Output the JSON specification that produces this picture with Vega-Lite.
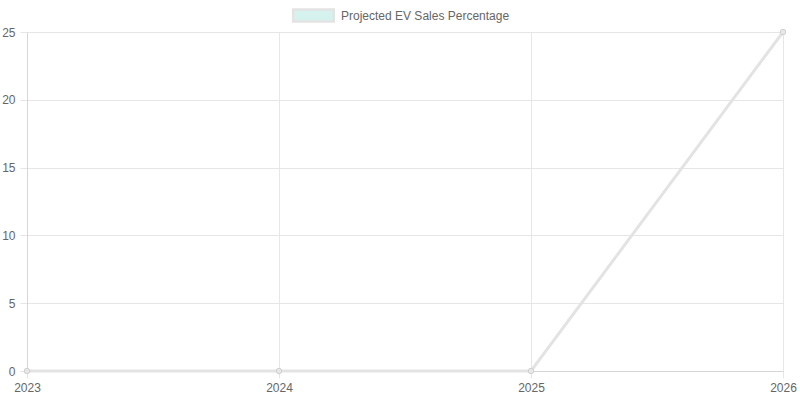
{
  "$schema": "https://vega.github.io/schema/vega-lite/v6.json",
  "autosize": {"type": "none"},
  "width": 756,
  "height": 339,
  "padding": {"left": 27, "top": 32, "right": 17, "bottom": 29},
  "background": "white",
  "data": {"values": [
    {"year": 2023, "value": 0, "series": "Projected EV Sales Percentage"},
    {"year": 2024, "value": 0, "series": "Projected EV Sales Percentage"},
    {"year": 2025, "value": 0, "series": "Projected EV Sales Percentage"},
    {"year": 2026, "value": 25, "series": "Projected EV Sales Percentage"}
  ]},
  "config": {
    "view": {"stroke": null},
    "font": "Liberation Sans",
    "axis": {
      "labelFont": "Liberation Sans",
      "labelFontSize": 12,
      "labelColor": "#666666",
      "gridColor": "#e6e6e6",
      "gridWidth": 1,
      "domainColor": "#d6d6d6",
      "tickColor": "#e6e6e6",
      "tickSize": 7,
      "title": null
    }
  },
  "encoding": {
    "x": {
      "field": "year", "type": "quantitative",
      "scale": {"domain": [2023, 2026], "nice": false, "zero": false},
      "axis": {"values": [2023, 2024, 2025, 2026], "format": "d", "labelPadding": 4, "labelFlush": false, "labelOverlap": false, "title": null}
    },
    "y": {
      "field": "value", "type": "quantitative",
      "scale": {"domain": [0, 25], "nice": false},
      "axis": {"values": [0, 5, 10, 15, 20, 25], "labelPadding": 5, "title": null}
    }
  },
  "layer": [
    {
      "mark": {"type": "line", "strokeWidth": 3, "opacity": 1, "interpolate": "linear"},
      "encoding": {
        "color": {
          "field": "series", "type": "nominal",
          "scale": {"range": ["#e3e3e3"]},
          "legend": {
            "orient": "none",
            "legendX": 265,
            "legendY": -38,
            "title": null,
            "symbolType": "M-1,-0.3H1V0.3H-1Z",
            "symbolSize": 1640,
            "symbolStrokeWidth": 2.5,
            "symbolFillColor": "#d6f2ee",
            "symbolStrokeColor": "#cce3df",
            "labelFont": "Liberation Sans",
            "labelFontSize": 12,
            "labelColor": "#666666",
            "labelOffset": 6,
            "labelLimit": 400,
            "encode": {
              "symbols": {"update": {"fill": {"value": "#d6f2ee"}, "stroke": {"value": "#cce3df"}, "opacity": {"value": 1}, "fillOpacity": {"value": 1}, "strokeOpacity": {"value": 1}}}
            }
          }
        }
      }
    },
    {
      "mark": {"type": "point", "shape": "circle", "size": 30, "filled": true, "fill": "#e8e8e8", "stroke": "#d0d0d0", "strokeWidth": 1, "opacity": 1},
      "encoding": {}
    }
  ]
}
